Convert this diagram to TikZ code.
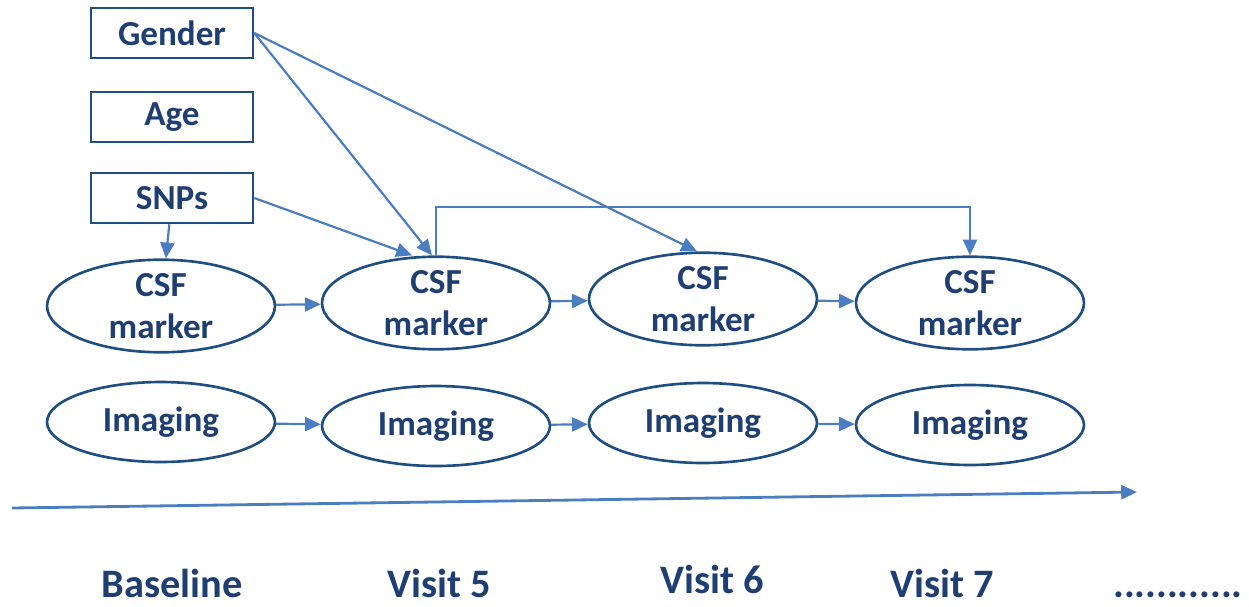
\documentclass[tikz,border=0pt]{standalone}
\usepackage{fontspec}
\setmainfont{Carlito}
\usepackage{tikz}
\usetikzlibrary{shapes.geometric,arrows.meta}
\definecolor{edgeblue}{HTML}{1F4E82}
\definecolor{txtblue}{HTML}{1F3F73}
\definecolor{arrblue}{HTML}{4A7EC0}

\begin{document}
\begin{tikzpicture}[x=0.02cm,y=-0.02cm,
    covar/.style={draw=edgeblue,line width=1.5pt,minimum width=3.24cm,minimum height=1cm,
      inner sep=0pt,text=txtblue,font=\fontsize{20}{24}\selectfont\bfseries},
    csf/.style={ellipse,draw=edgeblue,line width=1.5pt,minimum width=4.56cm,minimum height=1.8cm,
      inner sep=0pt,align=center,text=txtblue,font=\fontsize{20}{24}\selectfont\bfseries},
    img/.style={csf,minimum height=1.6cm},
    visit/.style={anchor=base,inner sep=1pt,text=txtblue,font=\fontsize{23}{26}\selectfont\bfseries},
    link/.style={draw=arrblue,line width=1.25pt,-{Triangle[length=9pt,width=8pt]}}]
  \useasboundingbox (0,0) rectangle (1249,606);
  % covariates
  \node[covar] (gender) at (172,33) {Gender};
  \node[covar] (age) at (172,117) {Age};
  \node[covar] (snps) at (172,198) {SNPs};
  % CSF markers and imaging per visit
  \node[csf] (c1) at (161,306) {CSF\\marker};
  \node[csf] (c2) at (436,303) {CSF\\marker};
  \node[csf] (c3) at (703,299) {CSF\\marker};
  \node[csf] (c4) at (970,303) {CSF\\marker};
  \node[img] (i1) at (161,422) {Imaging};
  \node[img] (i2) at (436,426) {Imaging};
  \node[img] (i3) at (703,423) {Imaging};
  \node[img] (i4) at (970,425) {Imaging};
  % time axis
  \coordinate (t0) at (12,508);
  \coordinate (t1) at (1137,492);
  \node[visit] (v0) at (172,597) {Baseline};
  \node[visit] (v5) at (439,597) {Visit 5};
  \node[visit] (v6) at (712,593) {Visit 6};
  \node[visit] (v7) at (942,597) {Visit 7};
  \node[visit] (vn) at (1178,597) {............};
  % edges
  \draw[link] (snps) -- (c1);
  \draw[link] (gender.east) -- ([xshift=-0.08cm]c2.north);
  \draw[link] (gender.east) -- ([xshift=-0.12cm]c3.north);
  \draw[link] (snps.east) -- ([xshift=-0.48cm]c2.north);
  \draw[link] (c2.north) -- ++(0,-48) -| (c4.north);
  \draw[link] (c1) -- (c2); \draw[link] (c2) -- (c3); \draw[link] (c3) -- (c4);
  \draw[link] (i1) -- (i2); \draw[link] (i2) -- (i3); \draw[link] (i3) -- (i4);
  \draw[link,line width=1.6pt] (t0) -- (t1);
\end{tikzpicture}
\end{document}
